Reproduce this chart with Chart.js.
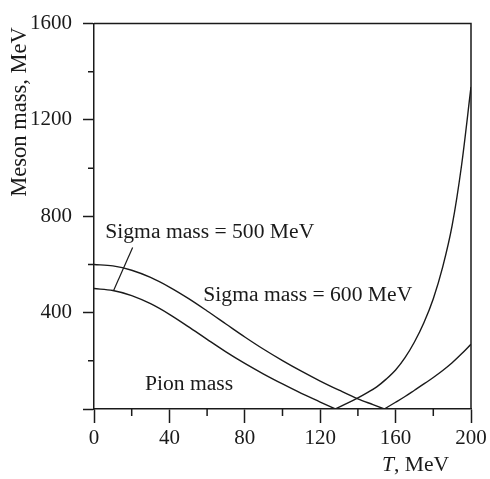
<!DOCTYPE html>
<html>
<head>
<meta charset="utf-8">
<script src="https://cdn.jsdelivr.net/npm/chart.js@4.4.1/dist/chart.umd.min.js"></script>
<style>
  html, body { margin: 0; padding: 0; background: #fff; }
  #wrap { width: 490px; height: 479px; }
</style>
</head>
<body>
<div id="wrap"><canvas id="massChart" width="490" height="479"></canvas></div>
<script>
// T (MeV) and meson mass (MeV)
const fall500T = [0, 10, 20, 30, 40, 50, 60, 70, 80, 90, 100, 110, 120, 128];
const fall500M = [500, 492, 471, 437, 393, 342, 289, 237, 189, 145, 104, 65, 29, 0];
const rise500T = [128, 135, 140, 145, 150, 155, 160, 165, 170, 175, 180, 185, 190, 195, 200];
const rise500M = [0, 26, 46, 68, 92, 124, 162, 213, 278, 358, 458, 590, 762, 1012, 1337];
const fall600T = [0, 10, 20, 30, 40, 50, 60, 70, 80, 90, 100, 110, 120, 130, 140, 148, 154];
const fall600M = [600, 594, 576, 546, 506, 459, 407, 353, 299, 248, 201, 157, 116, 78, 42, 18, 0];
const rise600T = [154, 160, 165, 170, 175, 180, 185, 190, 195, 200];
const rise600M = [0, 28, 52, 78, 104, 131, 160, 192, 229, 269];

const xMinor = [20, 60, 100, 140, 180];
const yMinor = [200, 600, 1000, 1400];

const INK = '#1a1a1a';
const SERIF = "'Liberation Serif', 'DejaVu Serif', serif";

function pts(ts, ms) {
    return ts.map((t, i) => ({ x: t, y: ms[i] }));
}

function curve(ts, ms) {
    return {
        data: pts(ts, ms),
        borderColor: INK,
        borderWidth: 1.4,
        pointRadius: 0,
        fill: false,
        cubicInterpolationMode: 'monotone',
    };
}

// frame, minor ticks, axis titles and in-plot labels
const extras = {
    id: 'extras',
    afterDraw(chart) {
        const ctx = chart.ctx;
        const xs = chart.scales.x, ys = chart.scales.y, a = chart.chartArea;
        ctx.save();
        ctx.strokeStyle = INK;
        ctx.lineWidth = 1.5;
        ctx.beginPath();
        ctx.moveTo(a.left, a.top);
        ctx.lineTo(a.right, a.top);
        ctx.lineTo(a.right, a.bottom);
        xMinor.forEach(v => {
            const px = xs.getPixelForValue(v);
            ctx.moveTo(px, a.bottom);
            ctx.lineTo(px, a.bottom + 7);
        });
        yMinor.forEach(v => {
            const py = ys.getPixelForValue(v);
            ctx.moveTo(a.left, py);
            ctx.lineTo(a.left - 6, py);
        });
        ctx.stroke();

        // leader from the 500 MeV label to its curve
        ctx.lineWidth = 1.2;
        ctx.beginPath();
        ctx.moveTo(xs.getPixelForValue(20.5), ys.getPixelForValue(670));
        ctx.lineTo(xs.getPixelForValue(10.4), ys.getPixelForValue(492));
        ctx.stroke();

        ctx.fillStyle = INK;
        ctx.font = '21.6px ' + SERIF;
        ctx.textBaseline = 'middle';
        ctx.textAlign = 'left';
        ctx.fillText('Sigma mass = 500 MeV', xs.getPixelForValue(6), ys.getPixelForValue(733));
        ctx.fillText('Sigma mass = 600 MeV', xs.getPixelForValue(58), ys.getPixelForValue(473));
        ctx.fillText('Pion mass', xs.getPixelForValue(27), ys.getPixelForValue(102));

        // x title: italic T
        ctx.font = 'italic 21.6px ' + SERIF;
        const tx = 382, ty = 465;
        ctx.fillText('T', tx, ty);
        const tw = ctx.measureText('T').width;
        ctx.font = '21.6px ' + SERIF;
        ctx.fillText(', MeV', tx + tw, ty);

        // y title
        ctx.font = '22.5px ' + SERIF;
        ctx.translate(20, 112);
        ctx.rotate(-Math.PI / 2);
        ctx.textAlign = 'center';
        ctx.fillText('Meson mass, MeV', 0, 0);
        ctx.restore();
    }
};

new Chart(document.getElementById('massChart'), {
    type: 'line',
    data: {
        datasets: [
            curve(fall500T, fall500M),
            curve(rise500T, rise500M),
            curve(fall600T, fall600M),
            curve(rise600T, rise600M),
        ]
    },
    options: {
        responsive: false,
        animation: false,
        layout: { padding: { top: 13, right: 19, left: 0, bottom: 0 } },
        plugins: {
            legend: { display: false },
            tooltip: { enabled: false },
        },
        scales: {
            x: {
                type: 'linear',
                min: 0,
                max: 200,
                afterFit: s => { s.height = 70; },
                border: { color: INK, width: 1.5 },
                grid: { drawOnChartArea: false, tickLength: 14, tickColor: INK, tickWidth: 1.5 },
                ticks: { stepSize: 40, padding: 3, color: INK, font: { family: SERIF, size: 21 }, maxRotation: 0 },
            },
            y: {
                min: 0,
                max: 1600,
                afterFit: s => { s.width = 94; },
                border: { color: INK, width: 1.5 },
                grid: { drawOnChartArea: false, tickLength: 11, tickColor: INK, tickWidth: 1.5 },
                ticks: {
                    stepSize: 400,
                    padding: 11,
                    color: INK,
                    font: { family: SERIF, size: 21 },
                    callback: v => v === 0 ? '' : v,
                },
            }
        }
    },
    plugins: [extras]
});
</script>
</body>
</html>
